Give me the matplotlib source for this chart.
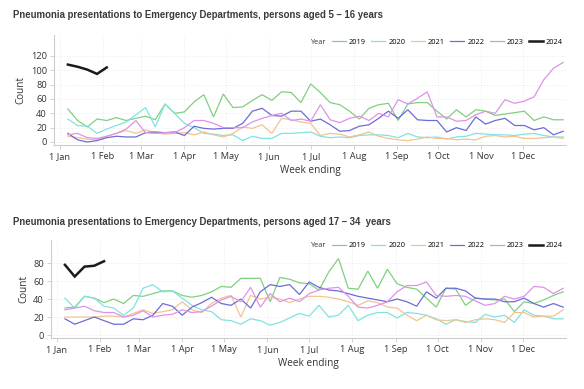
import matplotlib
matplotlib.use("Agg")
import matplotlib.pyplot as plt
import numpy as np

years = ["2019", "2020", "2021", "2022", "2023", "2024"]
colors = ["#80d080", "#80e2e2", "#f2c48e", "#6c6cd8", "#df92e8", "#1a1a1a"]

month_days = [0, 31, 59, 90, 120, 151, 181, 212, 243, 273, 304, 334]
month_labels = ["1 Jan", "1 Feb", "1 Mar", "1 Apr", "1 May", "1 Jun",
                "1 Jul", "1 Aug", "1 Sep", "1 Oct", "1 Nov", "1 Dec"]

top_2019 = [46,30,21,32,30,34,30,33,36,31,53,40,42,56,66,35,67,48,49,58,66,58,70,69,55,81,69,55,52,43,32,47,52,54,30,53,55,55,43,32,45,35,45,43,37,39,41,43,30,35,31,31]
top_2020 = [32,23,22,12,18,23,28,38,48,21,53,40,26,20,12,11,9,10,2,8,5,5,12,12,13,14,8,6,7,6,9,10,10,9,6,12,7,6,7,4,7,8,12,11,10,10,9,11,12,9,7,7]
top_2021 = [8,6,4,3,8,12,16,12,17,13,11,12,13,10,14,10,7,12,21,19,24,12,33,31,28,26,9,12,11,7,10,14,8,5,3,2,4,7,5,5,3,4,3,8,9,7,8,5,5,6,7,5]
top_2022 = [12,3,0,2,6,8,7,7,13,14,13,14,9,22,19,18,19,19,26,43,47,37,36,43,43,29,32,24,15,16,22,24,33,43,33,45,31,30,30,14,20,16,35,25,30,33,23,23,17,20,10,15]
top_2023 = [10,12,6,5,8,12,18,30,13,12,13,13,20,30,30,26,20,20,20,28,33,37,40,30,32,29,52,31,27,33,36,30,40,35,59,53,61,70,35,35,29,30,38,43,40,59,54,57,63,87,103,111]
top_2024 = [108,105,101,95,104]

bot_2019 = [30,31,43,41,36,40,35,44,43,46,49,49,44,42,44,48,54,53,63,63,63,37,64,62,58,57,50,70,85,52,51,71,52,73,57,53,51,41,31,52,51,33,41,40,39,40,26,37,35,39,44,48]
bot_2020 = [41,30,43,41,32,30,22,30,52,56,48,49,41,33,28,26,17,16,12,18,16,11,14,19,24,21,33,20,22,33,16,22,25,25,19,25,24,22,18,12,17,15,14,23,20,22,14,28,22,21,18,18]
bot_2021 = [20,20,20,20,21,21,20,24,28,24,26,28,37,28,25,35,41,44,20,44,40,42,40,36,40,43,43,42,40,37,33,38,36,31,30,22,16,22,17,16,17,14,17,18,17,14,25,25,20,21,21,28]
bot_2022 = [18,12,16,20,16,12,12,18,17,22,35,32,22,31,36,42,35,33,40,30,48,56,54,56,45,59,53,50,49,46,43,41,39,37,40,37,32,48,41,52,52,49,41,40,40,37,37,41,35,31,35,31]
bot_2023 = [28,30,32,27,25,25,20,22,27,20,22,23,28,25,26,32,39,43,37,53,31,46,37,41,37,46,50,52,53,43,31,30,33,37,48,55,55,59,44,43,44,43,38,33,35,43,40,43,54,53,46,52]
bot_2024 = [78,65,76,77,82]

top_series = [top_2019, top_2020, top_2021, top_2022, top_2023, top_2024]
bot_series = [bot_2019, bot_2020, bot_2021, bot_2022, bot_2023, bot_2024]

title_top = "Pneumonia presentations to Emergency Departments, persons aged 5 \u2013 16 years"
title_bot = "Pneumonia presentations to Emergency Departments, persons aged 17 \u2013 34  years"

W, H = 584, 389
fig = plt.figure(figsize=(W / 100, H / 100), dpi=100)

tick_font = "Open Sans"
grey = "#3a3a3a"


def make_axes(rect, series, ylim, yticks, legend_y):
    ax = fig.add_axes(rect)
    for s, c, lab in zip(series, colors, years):
        x = 6 + 7 * np.arange(len(s))
        lw = 1.8 if lab == "2024" else 0.9
        ax.plot(x, s, color=c, lw=lw, label=lab, solid_joinstyle="miter")
    ax.set_xlim(-4, 365)
    ax.set_ylim(*ylim)
    ax.set_xticks(month_days)
    ax.set_xticklabels(month_labels)
    ax.set_yticks(yticks)
    for sp in ["top", "right"]:
        ax.spines[sp].set_visible(False)
    for sp in ["left", "bottom"]:
        ax.spines[sp].set_color("#cccccc")
        ax.spines[sp].set_linewidth(0.8)
    ax.tick_params(axis="both", labelsize=6.7, colors="#cccccc", labelcolor="#333333",
                   length=3, width=0.6, pad=2)
    for t in ax.get_xticklabels() + ax.get_yticklabels():
        t.set_fontfamily(tick_font)
    ax.grid(True, color="#e6e6e6", linestyle=(0, (1, 2)), linewidth=0.6)
    ax.set_axisbelow(True)
    ax.set_ylabel("Count", fontsize=7.2, fontfamily=tick_font, color="#333333", labelpad=3)
    ax.set_xlabel("Week ending", fontsize=7.2, fontfamily=tick_font, color="#333333", labelpad=3)
    leg = ax.legend(loc="center right", bbox_to_anchor=(1.0, legend_y), ncol=6, frameon=False,
                    handlelength=1.9, handletextpad=0.4, columnspacing=0.75,
                    borderaxespad=0, prop={"family": tick_font, "size": 5.3})
    return ax, leg


ax1, leg1 = make_axes([54 / W, 1 - 145 / H, 512 / W, 110 / H], top_series,
                      (-4.2, 149.3), [0, 20, 40, 60, 80, 100, 120], 0.935)
ax2, leg2 = make_axes([51 / W, 1 - 338 / H, 515 / W, 98 / H], bot_series,
                      (-3.3, 105.6), [0, 20, 40, 60, 80], 0.94)

fig.text(13 / W, 1 - 15 / H, title_top, fontsize=6.9, fontweight="bold",
         fontfamily="Liberation Sans", color=grey, va="center", ha="left")
fig.text(13 / W, 1 - 222 / H, title_bot, fontsize=6.9, fontweight="bold",
         fontfamily="Liberation Sans", color=grey, va="center", ha="left")

fig.canvas.draw()
r = fig.canvas.get_renderer()
for ax, leg in [(ax1, leg1), (ax2, leg2)]:
    bb = leg.get_window_extent(r)
    fx = bb.x0 / fig.bbox.width
    fy = (bb.y0 + bb.y1) / 2 / fig.bbox.height
    fig.text(fx - 0.006, fy, "Year", fontsize=5.3, fontfamily=tick_font,
             color="#333333", ha="right", va="center")

fig.savefig("out.png", dpi=100, facecolor="white")
